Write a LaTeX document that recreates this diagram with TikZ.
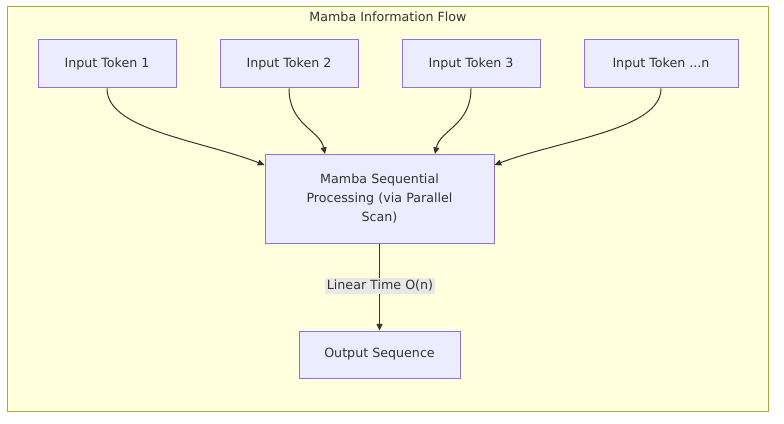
\documentclass[tikz,border=0pt]{standalone}
\usepackage{fontspec}
\setmainfont{DejaVu Sans}
\usetikzlibrary{arrows.meta}
\definecolor{clbg}{HTML}{FFFFDE}
\definecolor{clbd}{HTML}{AAAA33}
\definecolor{nbg}{HTML}{ECECFF}
\definecolor{nbd}{HTML}{9370DB}
\definecolor{ln}{HTML}{333333}
\begin{document}
\begin{tikzpicture}[x=0.75pt,y=-0.75pt,
  box/.style={draw=nbd,fill=nbg,line width=0.75pt,font=\fontsize{9.5}{14}\selectfont,text=ln,align=center},
  arr/.style={draw=ln,line width=0.75pt,-{Triangle[length=5pt,width=4.5pt]}}]
\useasboundingbox (0,0) rectangle (784,424);
\draw[draw=clbd,fill=clbg,line width=0.75pt] (7,7) rectangle (768,411);
\node[font=\fontsize{9.5}{12}\selectfont,text=ln] (title) at (388,17) {Mamba Information Flow};
\node[box,minimum width=138*0.75pt,minimum height=48*0.75pt] (t1) at (107,64) {Input Token 1};
\node[box,minimum width=138*0.75pt,minimum height=48*0.75pt] (t2) at (289,64) {Input Token 2};
\node[box,minimum width=138*0.75pt,minimum height=48*0.75pt] (t3) at (471,64) {Input Token 3};
\node[box,minimum width=154*0.75pt,minimum height=48*0.75pt] (tn) at (661,64) {Input Token ...n};
\node[box,minimum width=229*0.75pt,minimum height=89*0.75pt,text width=150*0.75pt] (m) at (379.5,198.5) {Mamba Sequential\\Processing (via Parallel\\Scan)};
\node[box,minimum width=161*0.75pt,minimum height=47*0.75pt] (o) at (379.5,354.5) {Output Sequence};
\draw[arr] (t1.south) .. controls (107,130) and (200,140) .. (m.west |- 0,165);
\draw[arr] (t2.south) .. controls (289,125) and (320,130) .. (325,154);
\draw[arr] (t3.south) .. controls (471,125) and (440,130) .. (435,154);
\draw[arr] (tn.south) .. controls (661,130) and (560,140) .. (m.east |- 0,165);
\draw[arr] (m.south) -- (o.north);
\node[fill=black!9,inner sep=1.5pt,font=\fontsize{9.5}{12}\selectfont,text=ln] (lbl) at (380,286) {Linear Time O(n)};
\end{tikzpicture}
\end{document}
